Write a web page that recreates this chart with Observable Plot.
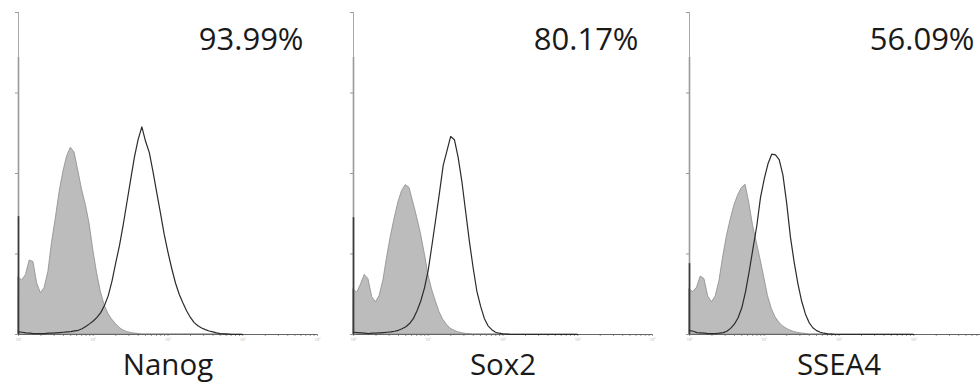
<!DOCTYPE html>
<html>
<head>
<meta charset="utf-8">
<script src="https://cdn.jsdelivr.net/npm/d3@7"></script>
<script src="https://cdn.jsdelivr.net/npm/@observablehq/plot@0.6"></script>
<style>
  html, body { margin: 0; padding: 0; background: #fff; overflow: hidden; width: 980px; height: 384px; }
  #wrap { position: relative; width: 980px; height: 384px; overflow: hidden; }
  .panel { position: absolute; top: 0; width: 335px; height: 384px; }
  .panel svg { max-width: none !important; width: 335px; height: 384px; }
</style>
</head>
<body>
<div id="wrap"></div>
<script>
// log10 fluorescence intensity channels (shared grid)
const logIntensity = [0,0.05,0.1,0.15,0.2,0.25,0.3,0.35,0.4,0.45,0.5,0.55,0.6,0.65,0.7,0.75,0.8,0.85,0.9,0.95,
  1,1.05,1.1,1.15,1.2,1.25,1.3,1.35,1.4,1.45,1.5,1.55,1.6,1.65,1.7,1.75,1.8,1.85,1.9,1.95,
  2,2.05,2.1,2.15,2.2,2.25,2.3,2.35,2.4,2.45,2.5,2.55,2.6,2.65,2.7,2.75,2.8,2.85,2.9,2.95,3];

// relative event counts (% of axis max)
const nanogControl = [17.7,16.8,18.5,23.0,22.5,15.8,12.8,14.5,19.5,28.8,36.2,44.3,50.5,55.3,58.0,56.5,50.8,45.0,40.3,34.5,
  26.3,19.2,13.4,9.2,6.5,4.7,3.3,2.1,1.3,0.8,0.5,0.3,0.2,0,0,0,0,0,0,0,
  0,0,0,0,0,0,0,0,0,0,0,0,0,0,0,0,0,0,0,0,0];
const nanogStained = [0.8,0.7,0.5,0.4,0.3,0.3,0.3,0.3,0.4,0.4,0.5,0.6,0.7,0.8,0.9,1.1,1.3,1.8,2.5,3.3,
  4.2,5.3,6.8,9.0,12.0,16.5,22.2,27.5,34.0,41.0,48.0,55.0,60.5,64.5,60.0,56.5,50.5,44.0,37.6,31.0,
  25.5,20.5,16.0,12.5,9.8,7.3,5.3,3.7,2.7,2.0,1.5,1.1,0.8,0.5,0.3,0.2,0.1,0,0,0,0];
const sox2Control = [14.0,13.0,15.5,18.5,17.2,11.6,10.0,12.0,16.8,24.0,30.5,36.0,41.0,44.6,46.4,45.5,41.0,36.5,31.5,25.5,
  18.8,14.0,10.4,7.0,4.6,3.0,1.8,1.2,0.7,0.4,0.2,0.1,0,0,0,0,0,0,0,0,
  0,0,0,0,0,0,0,0,0,0,0,0,0,0,0,0,0,0,0,0,0];
const sox2Stained = [0.7,0.6,0.5,0.4,0.3,0.4,0.4,0.5,0.6,0.7,0.8,1.0,1.3,1.8,2.4,3.4,4.9,7.4,10.4,14.5,
  20.0,27.8,35.8,44.0,52.5,57.0,61.5,60.5,55.0,47.5,38.2,29.0,20.8,13.5,8.8,5.0,2.7,1.5,0.7,0.4,
  0.2,0.1,0,0,0,0,0,0,0,0,0,0,0,0,0,0,0,0,0,0,0];
const ssea4Control = [14.0,13.2,14.5,18.0,17.2,11.8,10.0,11.8,16.5,24.0,30.5,35.6,40.0,43.2,45.5,46.5,40.8,33.8,28.6,23.3,
  17.7,11.9,8.0,5.4,3.7,2.5,1.8,1.2,0.8,0.5,0.3,0.2,0,0,0,0,0,0,0,0,
  0,0,0,0,0,0,0,0,0,0,0,0,0,0,0,0,0,0,0,0,0];
const ssea4Stained = [1.2,1.0,0.6,0.5,0.4,0.3,0.3,0.3,0.4,0.6,1.0,1.9,3.2,5.2,8.3,13.3,19.8,26.8,33.7,42.6,
  48.3,53.0,56.0,55.8,54.3,49.5,40.8,30.3,22.5,15.8,10.4,6.4,3.7,2.1,1.2,0.7,0.4,0.2,0.1,0,
  0,0,0,0,0,0,0,0,0,0,0,0,0,0,0,0,0,0,0,0,0];

// first-channel (off-scale low) pile-up
const controlSpike = [86, 86, 86];
const stainedSpike = [36.6, 36.3, 22];

const markers = ["Nanog", "Sox2", "SSEA4"];
const positivePct = ["93.99%", "80.17%", "56.09%"];
const yTicks = [0, 25, 50, 75, 100];
const xDomain = [1, 10000];
// highest decade label visible in each panel (the last panel runs past the picture edge)
const maxDecadeLabel = [4, 4, 3];

const controls = [nanogControl, sox2Control, ssea4Control];
const stained = [nanogStained, sox2Stained, ssea4Stained];
const panelLeft = [0, 335, 671];

const sup = {"0":"⁰","1":"¹","2":"²","3":"³","4":"⁴"};
function decadeLabeler(maxDecade) {
  return d => {
    const l = Math.log10(d);
    const r = Math.round(l);
    if (Math.abs(l - r) < 1e-9 && r <= maxDecade) return "10" + sup[String(r)];
    return "";
  };
}

const wrap = document.getElementById("wrap");
markers.forEach((name, i) => {
  const ctrl = logIntensity.map((l, j) => ({x: Math.pow(10, l), y: controls[i][j]}));
  const stn = logIntensity.map((l, j) => ({x: Math.pow(10, l), y: stained[i][j]}));
  const chart = Plot.plot({
    width: 335,
    height: 384,
    marginLeft: 18,
    marginRight: 18,
    marginTop: 12,
    marginBottom: 50,
    style: {fontFamily: "'Open Sans', sans-serif", background: "transparent", color: "#222", maxWidth: "none", overflow: "visible"},
    x: {type: "log", domain: xDomain},
    y: {domain: [0, 100]},
    marks: [
      Plot.axisY({ticks: yTicks, tickSize: 3, tickFormat: () => "", label: null, stroke: "#999"}),
      Plot.axisX({ticks: 40, tickSize: 2, tickFormat: decadeLabeler(maxDecadeLabel[i]), fontSize: 4, fill: "#aaa", stroke: "#999", label: null, tickPadding: 2}),
      Plot.areaY(ctrl, {x: "x", y: "y", fill: "#bcbcbc", stroke: "#8c8c8c", strokeWidth: 0.8}),
      Plot.ruleX([1], {y1: 0, y2: 100, stroke: "#a8a8a8", strokeWidth: 1}),
      Plot.ruleX([controlSpike[i]], {x: () => 1, y1: 0, y2: d => d, stroke: "#9a9a9a", strokeWidth: 1.6}),
      Plot.ruleX([stainedSpike[i]], {x: () => 1, y1: 0, y2: d => d, stroke: "#3a3a3a", strokeWidth: 1.6}),
      Plot.ruleY([0], {stroke: "#666", strokeWidth: 1}),
      Plot.lineY(stn, {x: "x", y: "y", stroke: "#2b2b2b", strokeWidth: 1.2}),
      Plot.text([positivePct[i]], {text: d => d, frameAnchor: "top-right", textAnchor: "end", lineAnchor: "top", dx: -14, dy: 15, fontSize: 31, fill: "#1a1a1a"}),
      Plot.text([name], {text: d => d, frameAnchor: "bottom", lineAnchor: "top", dy: 20, fontSize: 29.5, fill: "#1a1a1a"})
    ]
  });
  const div = document.createElement("div");
  div.className = "panel";
  div.style.left = panelLeft[i] + "px";
  div.appendChild(chart);
  wrap.appendChild(div);
});
</script>
</body>
</html>
